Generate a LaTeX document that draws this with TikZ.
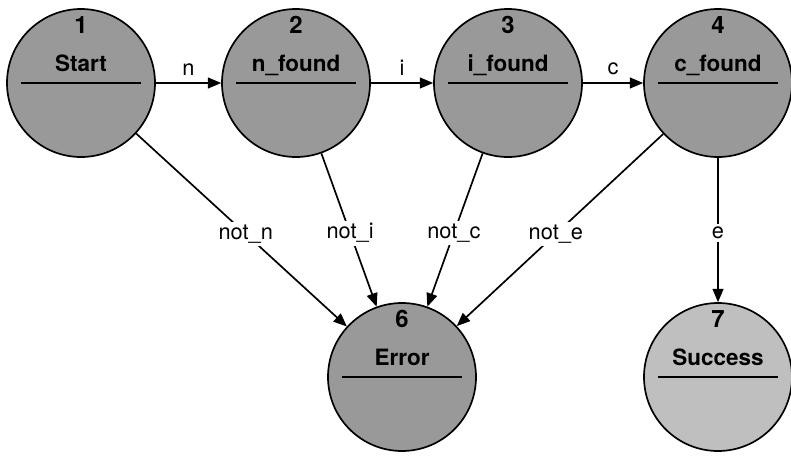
\documentclass[tikz,border=0pt]{standalone}
\usepackage{fontspec}
\setmainfont{TeX Gyre Heros}
\usetikzlibrary{arrows}

\begin{document}
\begin{tikzpicture}[>=triangle 45]
            \tikzstyle{state} = [circle,fill=black!40,draw=black,line width=1.2pt,minimum size=3.7cm,inner sep=0pt];
            \tikzstyle{statenum} = [font=\fontsize{17}{20}\selectfont\bfseries,anchor=base,inner sep=0pt];
            \tikzstyle{statetitle} = [font=\fontsize{16}{19}\selectfont\bfseries,anchor=base,inner sep=0pt];
            \tikzstyle{trans} = [->,line width=1.2pt];
            \tikzstyle{lbl} = [font=\fontsize{15.5}{18}\selectfont,fill=white,inner sep=2pt];
            \useasboundingbox[fill=white] (0,0) rectangle (19.775,11.475);
            \node[state] (s1) at (2.025,9.4) {};
            \node[state] (s2) at (7.4,9.4) {};
            \node[state] (s3) at (12.7,9.4) {};
            \node[state] (s4) at (17.95,9.4) {};
            \node[state] (s6) at (10.05,2.05) {};
            \node[state,fill=black!25] (s7) at (17.95,2.05) {};
            \foreach \s/\k/\txt in {s1/1/Start, s2/2/n\_found, s3/3/i\_found, s4/4/c\_found, s6/6/Error, s7/7/Success} {
                \node[statenum] (num\k) at ([yshift=1.25cm]\s.center) {\k};
                \node[statetitle] (title\k) at ([yshift=0.28cm]\s.center) {\txt};
                \draw[line width=1.2pt] ([xshift=0.375cm]\s.west) -- ([xshift=-0.375cm]\s.east);
            }
            \draw[trans] (s1) -- node[lbl,fill=none,above=3pt] (ln) {n} (s2);
            \draw[trans] (s2) -- node[lbl,fill=none,above=3pt] (li) {i} (s3);
            \draw[trans] (s3) -- node[lbl,fill=none,above=3pt] (lc) {c} (s4);
            \draw[trans] (s1) -- node[lbl,pos=0.52] (lnotn) {not\_n} (s6);
            \draw[trans] (s2) -- node[lbl,pos=0.52] (lnoti) {not\_i} (s6);
            \draw[trans] (s3) -- node[lbl,pos=0.52] (lnotc) {not\_c} (s6);
            \draw[trans] (s4) -- node[lbl,pos=0.52] (lnote) {not\_e} (s6);
            \draw[trans] (s4) -- node[lbl,pos=0.52] (le) {e} (s7);
        \end{tikzpicture}
\end{document}
